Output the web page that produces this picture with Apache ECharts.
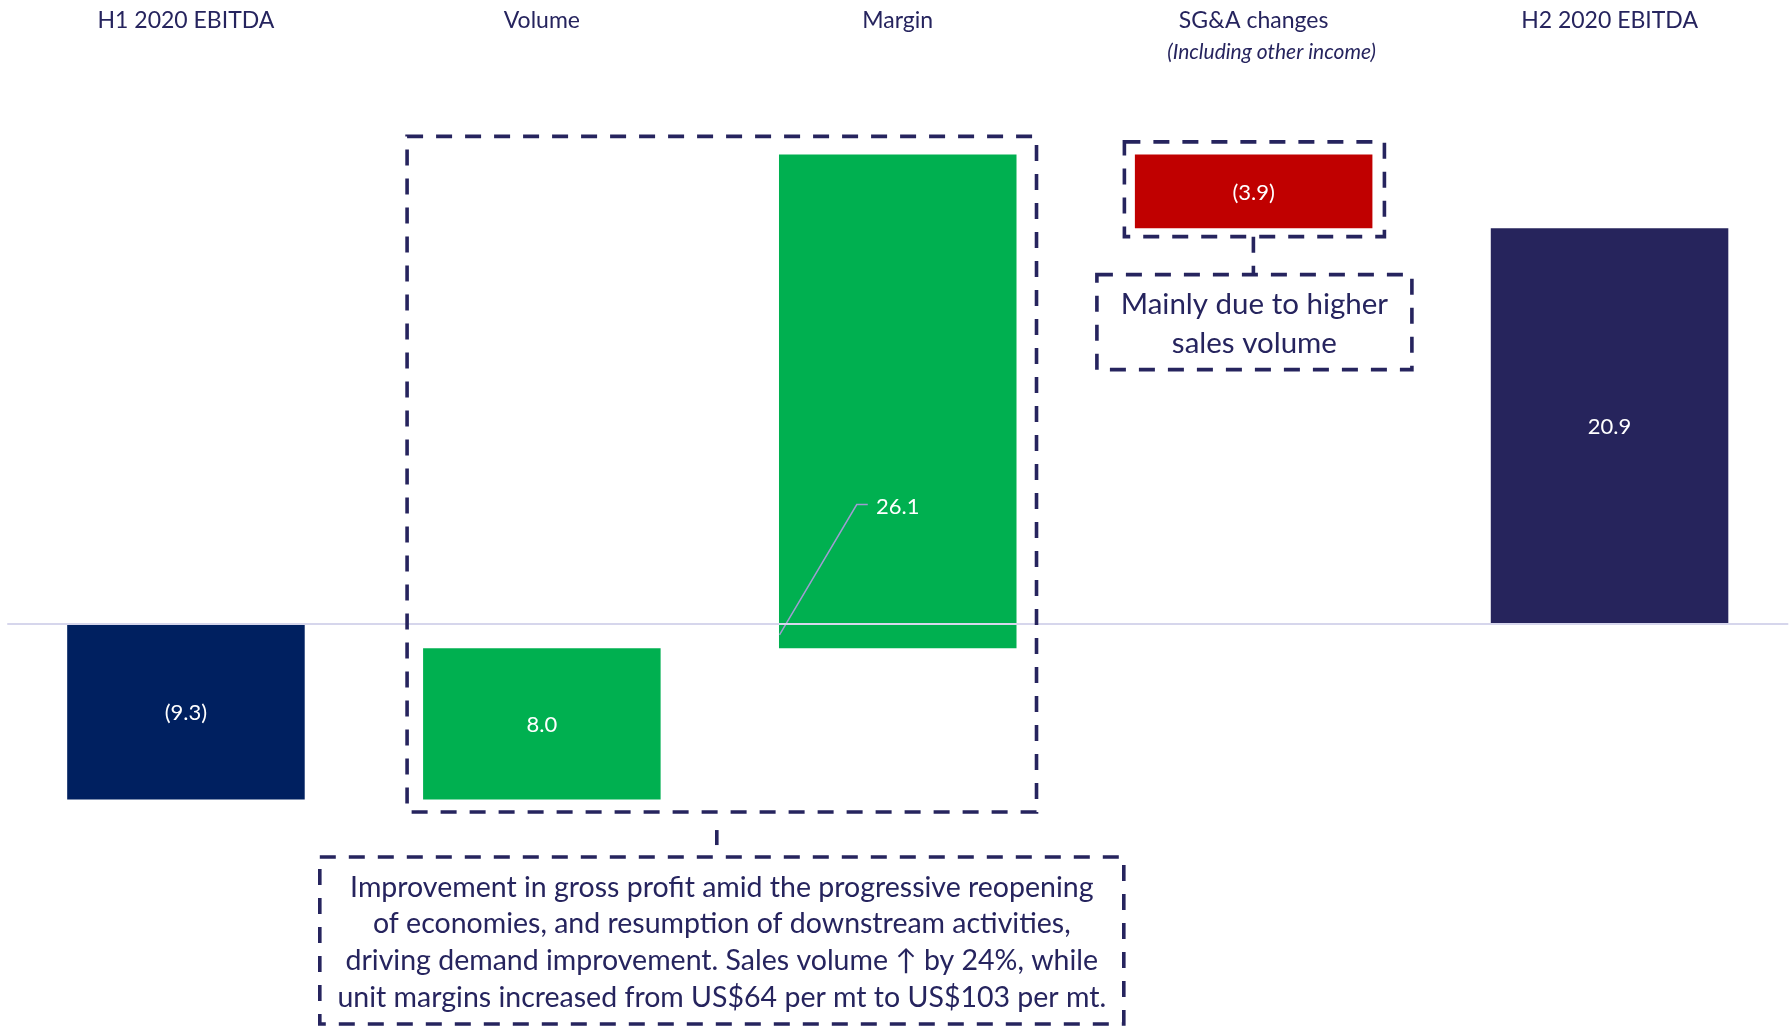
<!DOCTYPE html>
<html>
<head>
<meta charset="utf-8">
<script src="https://cdn.jsdelivr.net/npm/echarts@6/dist/echarts.min.js"></script>
<style>
html,body{margin:0;padding:0;background:#fff;}
#chart{width:1790px;height:1027px;}
</style>
</head>
<body>
<div id="chart"></div>
<script>
// ---- data ----
const categories = ['H1 2020 EBITDA', 'Volume', 'Margin', 'SG&A changes', 'H2 2020 EBITDA'];
const subLabels = ['', '', '', '(Including other income)', ''];
const values = [-9.3, 8.0, 26.1, -3.9, 20.9];
const barKinds = ['total', 'delta', 'delta', 'delta', 'total'];
const noteVolumeMargin = 'Improvement in gross profit amid the progressive reopening\nof economies, and resumption of downstream activities,\ndriving demand improvement. Sales volume \u2191 by 24%, while\nunit margins increased from US$64 per mt to US$103 per mt.';
const noteSGA = 'Mainly due to higher\nsales volume';

// ---- styles / layout ----
const FONT = 'Lato, "Open Sans", sans-serif';
const TEXT = '#26245E';
const COLORS = { totalStart: '#002060', totalEnd: '#26245C', up: '#00B050', down: '#C00000' };
const BAR_FRAC = 0.6674;
const MOVED_LABEL = { 2: { labelValue: 6.2, leaderValue: -0.6 } };

// build waterfall [index, start, end, value]
const wfData = [];
let running = 0;
values.forEach((v, i) => {
  let s, e;
  if (barKinds[i] === 'total') { s = 0; e = v; running = v; }
  else { s = running; e = running + v; running = e; }
  wfData.push([i, s, e, v]);
});
function fmt(v) { return v < 0 ? '(' + Math.abs(v).toFixed(1) + ')' : v.toFixed(1); }
function colorFor(i, v) {
  if (barKinds[i] === 'total') return i === 0 ? COLORS.totalStart : COLORS.totalEnd;
  return v >= 0 ? COLORS.up : COLORS.down;
}

function renderItem(params, api) {
  const i = api.value(0), s = api.value(1), e = api.value(2), v = api.value(3);
  const p0 = api.coord([i, s]), p1 = api.coord([i, e]);
  const w = api.size([1, 0])[0] * BAR_FRAC;
  const cx = p0[0];
  const x = cx - w / 2;
  const yTop = Math.min(p0[1], p1[1]);
  const yBot = Math.max(p0[1], p1[1]);
  const children = [{
    type: 'rect',
    shape: { x: x, y: yTop, width: w, height: yBot - yTop },
    style: { fill: colorFor(i, v) }
  }];
  const mv = MOVED_LABEL[i];
  if (mv) {
    const ly = api.coord([i, mv.labelValue])[1];
    const sy = api.coord([i, mv.leaderValue])[1];
    children.push({
      type: 'polyline',
      shape: { points: [[x + 0.5, sy], [cx - 41, ly - 1.7], [cx - 30, ly - 1.7]] },
      style: { stroke: '#A09CD2', lineWidth: 1.5, fill: null }
    });
    children.push({
      type: 'text',
      style: { text: fmt(v), x: cx, y: ly + 1, fill: '#fff', font: '22px ' + FONT, align: 'center', verticalAlign: 'middle' }
    });
  } else {
    children.push({
      type: 'text',
      style: { text: fmt(v), x: cx, y: (yTop + yBot) / 2 + 1.5, fill: '#fff', font: '22px ' + FONT, align: 'center', verticalAlign: 'middle' }
    });
  }
  return { type: 'group', children: children };
}

const chart = echarts.init(document.getElementById('chart'), null, { renderer: 'canvas' });
chart.setOption({
  animation: false,
  backgroundColor: '#fff',
  grid: { left: 8, right: 2.5, top: 56, bottom: 25 },
  xAxis: [{
    type: 'category',
    data: categories,
    position: 'top',
    axisLine: { show: false },
    axisTick: { show: false },
    axisLabel: {
      interval: 0,
      margin: 47,
      verticalAlign: 'top',
      formatter: function (val, idx) {
        return subLabels[idx] ? '{a|' + val + '}\n{b|' + subLabels[idx] + '}' : '{a|' + val + '}';
      },
      rich: {
        a: { fontFamily: FONT, fontSize: 23, color: TEXT, lineHeight: 24, align: 'center' },
        b: { fontFamily: FONT, fontSize: 21, fontStyle: 'italic', color: TEXT, lineHeight: 38, align: 'center', padding: [0, 0, 0, 36] }
      }
    }
  }, {
    type: 'category',
    data: categories,
    position: 'bottom',
    z: 10,
    axisLine: { show: true, onZero: true, onZeroAxisIndex: 0, lineStyle: { color: '#D6D6EC', width: 2 } },
    axisTick: { show: false },
    axisLabel: { show: false }
  }],
  yAxis: { type: 'value', min: -20, max: 30, show: false },
  series: [{
    type: 'custom',
    xAxisIndex: 0,
    yAxisIndex: 0,
    renderItem: renderItem,
    encode: { x: 0, y: [1, 2] },
    data: wfData,
    z: 2
  }]
});

// ---- annotations positioned from the chart's scales ----
function px(i, v) { return chart.convertToPixel({ xAxisIndex: 0, yAxisIndex: 0 }, [i, v]); }
const band = px(1, 0)[0] - px(0, 0)[0];
const half = band * BAR_FRAC / 2;
function barBox(i) {
  const d = wfData[i];
  const a = px(i, d[1]), b = px(i, d[2]);
  return { l: a[0] - half, r: a[0] + half, t: Math.min(a[1], b[1]), b: Math.max(a[1], b[1]), cx: a[0] };
}
const vol = barBox(1), mar = barBox(2), sga = barBox(3);
const DASH = { stroke: '#26245E', lineWidth: 3.6, fill: null, lineDash: [16, 13] };

const boxA = { l: vol.l - 16, r: mar.r + 20, t: mar.t - 18, b: vol.b + 12.5 };
const boxAcx = (boxA.l + boxA.r) / 2;
const noteA = { l: boxAcx - 402, r: boxAcx + 402, t: boxA.b + 45, b: boxA.b + 212 };
const boxB = { l: sga.l - 10.5, r: sga.r + 12, t: sga.t - 12.5, b: sga.b + 8.5 };
const boxBcx = (boxB.l + boxB.r) / 2;
const noteB = { l: boxBcx - 157.5, r: boxBcx + 157.5, t: boxB.b + 38, b: boxB.b + 133 };

function rectEl(o) {
  return { type: 'rect', shape: { x: o.l, y: o.t, width: o.r - o.l, height: o.b - o.t }, style: Object.assign({}, DASH), z: 20 };
}
chart.setOption({
  graphic: [
    rectEl(boxA),
    rectEl(noteA),
    { type: 'line', shape: { x1: boxAcx - 5, y1: boxA.b + 18, x2: boxAcx - 5, y2: boxA.b + 33 }, style: { stroke: '#26245E', lineWidth: 3.6 }, z: 20 },
    { type: 'text', z: 20, style: { text: noteVolumeMargin, x: boxAcx, y: (noteA.t + noteA.b) / 2 + 2, align: 'center', verticalAlign: 'middle', font: '28.5px ' + FONT, lineHeight: 36.8, fill: TEXT } },
    rectEl(boxB),
    rectEl(noteB),
    { type: 'line', shape: { x1: boxBcx - 1, y1: boxB.b, x2: boxBcx - 1, y2: noteB.t }, style: Object.assign({}, DASH, { fill: null }), z: 20 },
    { type: 'text', z: 20, style: { text: noteSGA, x: boxBcx, y: (noteB.t + noteB.b) / 2 + 1.5, align: 'center', verticalAlign: 'middle', font: '29.5px ' + FONT, lineHeight: 38.8, fill: TEXT } }
  ]
});
</script>
</body>
</html>
